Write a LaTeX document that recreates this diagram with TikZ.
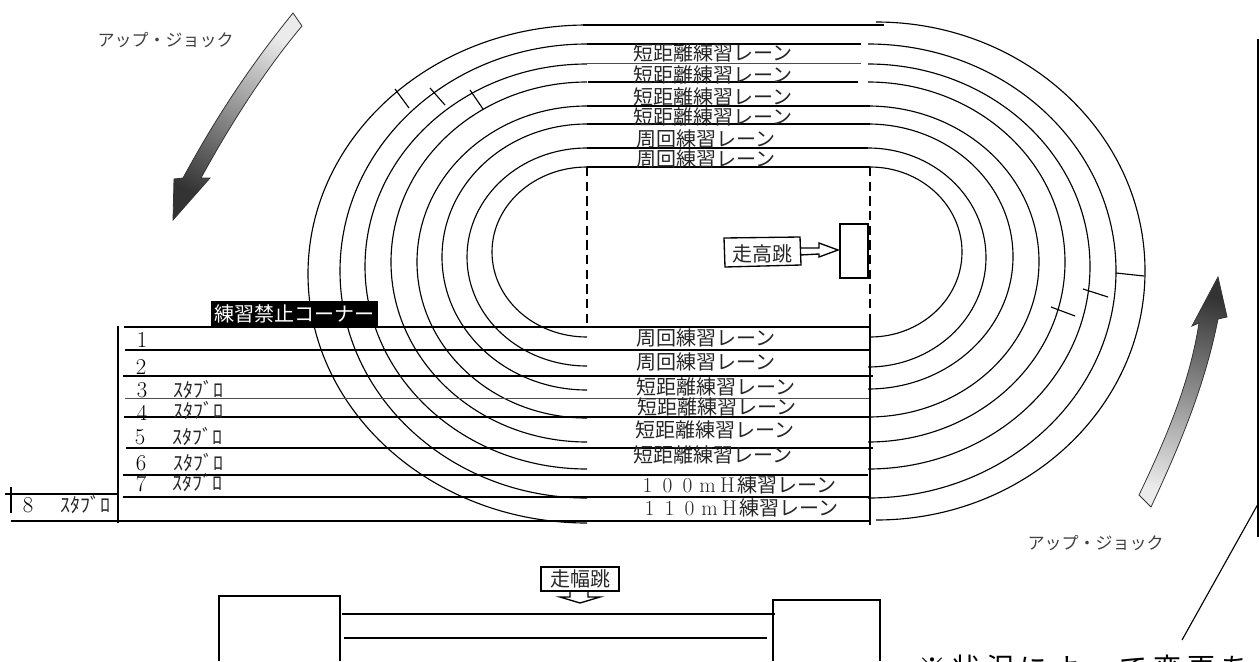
\documentclass[tikz,border=0pt]{standalone}
\usepackage{fontspec}
\newfontfamily\jpfont{Noto Sans CJK JP}
\newfontfamily\jpwide[LetterSpace=21]{Noto Sans CJK JP}
\newcommand{\cellch}[1]{\makebox[15pt]{\fontspec{Latin Modern Roman}\fontsize{16}{18}\selectfont #1}}
\tikzset{
  lane/.style={line width=0.85pt},
  rule/.style={line width=1.5pt},
  thinrule/.style={line width=0.7pt,black!70},
  lanelabel/.style={inner sep=0pt,text=black!85,font=\jpfont\fontsize{15}{18}\selectfont},
  numlabel/.style={inner sep=0pt,font=\fontsize{17}{20}\selectfont},
  runlabel/.style={inner sep=0pt,text=black!75,font=\jpfont\fontsize{12.75}{15}\selectfont},
  flow/.style={draw=black!80,line width=0.6pt}
}
\begin{document}
\begin{tikzpicture}[x=0.75pt,y=-0.75pt]

\clip (0,0) rectangle (1259,661);

% right bends
\draw[lane] (870,167) arc[start angle=-90,end angle=90,x radius=92,y radius=85];
\draw[lane] (868,148) arc[start angle=-90,end angle=90,x radius=118,y radius=109.5];
\draw[lane] (868,124) arc[start angle=-90,end angle=90,x radius=145,y radius=132.5];
\draw[lane] (868,106) arc[start angle=-90,end angle=90,x radius=171,y radius=155.5];
\draw[lane] (868,82) arc[start angle=-90,end angle=90,x radius=197,y radius=180];
\draw[lane] (868,64) arc[start angle=-90,end angle=90,x radius=222,y radius=202.5];
\draw[lane] (868,44) arc[start angle=-90,end angle=90,x radius=248,y radius=227];
\draw[lane] (876,22) arc[start angle=-90,end angle=90,x radius=269,y radius=249];

% left bends
\draw[lane] (587,167) arc[start angle=-90,end angle=-270,x radius=95,y radius=85];
\draw[lane] (587,148) arc[start angle=-90,end angle=-270,x radius=120,y radius=109];
\draw[lane] (587,124) arc[start angle=-90,end angle=-270,x radius=145,y radius=133];
\draw[lane] (587,106) arc[start angle=-90,end angle=-270,x radius=170,y radius=156];
\draw[lane] (587,82) arc[start angle=-90,end angle=-270,x radius=196,y radius=180];
\draw[lane] (587,64) arc[start angle=-90,end angle=-270,x radius=222,y radius=202.5];
\draw[lane] (587,44) arc[start angle=-90,end angle=-270,x radius=247,y radius=227];
\draw[lane] (587,25) arc[start angle=-90,end angle=-270,x radius=279,y radius=249];

% ticks on the bends
\draw[lane] (395,89) -- (409,108);
\draw[lane] (430,88) -- (445,105);
\draw[lane] (470,90) -- (483,109);
\draw[lane] (1116,273) -- (1144,276);
\draw[lane] (1083,289) -- (1108,297);
\draw[lane] (1051,307) -- (1075,316);

% back straight
\draw[rule] (583,25) -- (884,25);
\draw[rule] (587,44) -- (861,44);
\draw[thinrule] (587,63) -- (861,63);
\draw[rule] (588,82) -- (858,82);
\draw[rule] (587,106) -- (870,106);
\draw[rule] (587,124) -- (870,124);
\draw[rule] (587,148) -- (868,148);
\draw[rule] (587,167) -- (870,167);

% home straight
\draw[rule] (124,327) -- (870,327);
\draw[rule] (125,350) -- (870,350);
\draw[rule] (123,376) -- (873,376);
\draw[thinrule] (125,398) -- (869,398);
\draw[rule] (124,417) -- (870,417);
\draw[rule] (126,448) -- (873,448);
\draw[rule] (123,475) -- (868,475);
\draw[rule] (123,497) -- (870,497);
\draw[rule] (11,521) -- (869,521);

\draw[rule] (118,326) -- (118,523);
\draw[rule] (870,321) -- (870,525);
\draw[rule] (5,494) -- (118,494);
\draw[rule] (11,487) -- (11,513);

\draw[rule,dash pattern=on 7pt off 4pt] (587,167) -- (587,327);
\draw[rule,dash pattern=on 7pt off 4pt] (870,167) -- (870,321);

% lane names
\node (back1) at (713,53) [lanelabel]{短距離練習レーン};
\node (back2) at (713,75) [lanelabel]{短距離練習レーン};
\node (back3) at (713,97) [lanelabel]{短距離練習レーン};
\node (back4) at (713,117) [lanelabel]{短距離練習レーン};
\node (back5) at (706,139) [lanelabel]{周回練習レーン};
\node (back6) at (706,159) [lanelabel]{周回練習レーン};

\node (home1) at (706,338) [lanelabel]{周回練習レーン};
\node (home2) at (706,362) [lanelabel]{周回練習レーン};
\node (home3) at (716,387) [lanelabel]{短距離練習レーン};
\node (home4) at (717,407) [lanelabel]{短距離練習レーン};
\node (home5) at (715,430) [lanelabel]{短距離練習レーン};
\node (home6) at (713,455) [lanelabel]{短距離練習レーン};
\node (home7) at (737,485) [lanelabel]{\cellch{1}\cellch{0}\cellch{0}\cellch{m}\cellch{H}練習レーン};
\node (home8) at (739,508) [lanelabel]{\cellch{1}\cellch{1}\cellch{0}\cellch{m}\cellch{H}練習レーン};

% start numbers
\node (num1) at (142,340) [numlabel]{1};
\node (num2) at (141,367) [numlabel]{2};
\node (num3) at (142,390) [numlabel]{3};
\node (num4) at (142,413) [numlabel]{4};
\node (num5) at (140,437) [numlabel]{5};
\node (num6) at (141,463) [numlabel]{6};
\node (num7) at (141,484) [numlabel]{7};
\node (num8) at (28,505) [numlabel]{8};

\node (block3) at (198,390) [lanelabel]{ｽﾀﾌﾞﾛ};
\node (block4) at (198,411) [lanelabel]{ｽﾀﾌﾞﾛ};
\node (block5) at (197,437) [lanelabel]{ｽﾀﾌﾞﾛ};
\node (block6) at (198,463) [lanelabel]{ｽﾀﾌﾞﾛ};
\node (block7) at (197,483) [lanelabel]{ｽﾀﾌﾞﾛ};
\node (block8) at (85,505) [lanelabel]{ｽﾀﾌﾞﾛ};

\node (corner) at (294.5,313.5) [fill=black,text=white,inner sep=0pt,minimum width=125.25pt,minimum height=18.75pt,font=\jpfont\fontsize{15}{18}\selectfont]{練習禁止コーナー};

% running direction
\node (run1) at (165.5,40) [runlabel]{アップ・ジョック};
\node (run2) at (1095.5,543) [runlabel]{アップ・ジョック};

\shade[flow,top color=black!8,bottom color=black!80,shading angle=-30]
  (293,13) .. controls (255,60) and (220,110) .. (183,178) -- (174,179) -- (173,220)
  -- (210,178) -- (201,178) .. controls (230,125) and (265,70) .. (302,26) -- cycle;
\shade[flow,top color=black!80,bottom color=black!8,shading angle=-15]
  (1139,495) .. controls (1170,430) and (1190,380) .. (1199,323) -- (1192,326) -- (1218,277)
  -- (1227,317) -- (1218,319) .. controls (1205,385) and (1180,445) .. (1151,507) -- cycle;

% high jump
\draw[rule] (840,224) rectangle (868,278);
\draw[line width=1pt] (800,248) -- (819,248) -- (819,243) -- (838,250) -- (819,257) -- (819,254) -- (800,255);
\draw[line width=1pt] (724,238) -- (800,237) -- (801,265) -- (725,267) -- cycle;
\node (highjump) at (762,254) [lanelabel]{走高跳};

% long jump
\draw[rule] (541,567) rectangle (619,591);
\draw[line width=1pt] (570,591) -- (570,597) -- (560,597) -- (580,603) -- (600,597) -- (588,597) -- (588,591);
\node (longjump) at (580,579) [lanelabel]{走幅跳};

\draw[rule] (219,661) -- (219,596) -- (340,596) -- (340,661);
\draw[rule] (773,661) -- (773,600) -- (880,600) -- (880,661);
\draw[rule] (342,614) -- (775,614);
\draw[rule] (344,637.5) -- (767,637.5);

% note at the edge
\draw[line width=1pt] (1258,39) -- (1258,537);
\draw[lane] (1258,504) -- (1182,640);
\node (note) at (918,668) [anchor=west,inner sep=0pt,font=\jpwide\fontsize{21}{24}\selectfont]{※状況によって変更あ};

\end{tikzpicture}
\end{document}
